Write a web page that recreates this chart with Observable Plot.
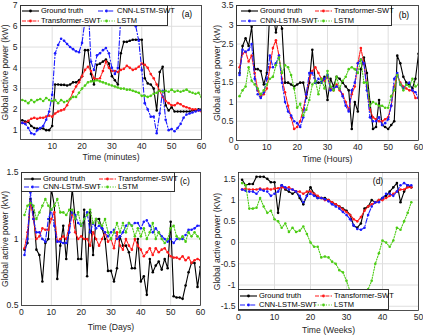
<!DOCTYPE html>
<html><head><meta charset="utf-8">
<script src="https://cdn.jsdelivr.net/npm/d3@7"></script>
<script src="https://cdn.jsdelivr.net/npm/@observablehq/plot@0.6"></script>
<style>
body{margin:0;background:#fff;font-family:"Liberation Sans",Arial,sans-serif;}
#fig{position:relative;width:423px;height:336px;overflow:hidden;background:#fff;}
.panel{position:absolute;}
.legend{position:absolute;background:#fff;border:1px solid #333;box-sizing:border-box;font-size:7.5px;color:#000;}
.item{position:absolute;display:flex;align-items:center;white-space:nowrap;height:8px;}
.item span{margin-left:2px;line-height:8px;}
.tag{position:absolute;font-size:8.5px;color:#000;transform:translate(-50%,-50%);}
</style></head><body><div id="fig"></div>
<script>
// ---- series metadata ----
const seriesNames = ["Ground truth", "Transformer-SWT", "CNN-LSTM-SWT", "LSTM"];
const seriesColors = ["#000000", "#ff1a1a", "#1a1aff", "#4ccc14"];
const seriesDash = [undefined, "4,1.2", "5,2,1.2,2", "1.2,1.5"];

// ---- panel (a): minutes ----
const aTime = d3.range(0, 61);
const aTruth = [1.48,1.42,1.4,1.2,1.1,1.08,1.08,1.08,1.0,1.0,1.2,3.2,3.2,3.18,3.18,3.15,3.2,3.3,3.3,3.4,3.6,4.85,4.85,3.7,3.2,4.15,4.2,4.3,4.4,4.2,3.6,3.4,3.2,4.7,5.25,5.25,5.3,5.35,5.35,5.35,5.35,3.5,3.25,3.2,3.0,1.95,3.8,4.05,2.2,1.95,2.1,1.9,1.9,1.9,1.9,1.9,1.9,1.95,1.95,2.0,2.0];
const aTrans = [1.35,1.35,1.45,1.55,1.6,1.55,1.6,1.6,1.65,1.7,1.65,1.8,1.9,1.95,2.0,2.2,2.5,2.85,3.1,3.3,3.6,3.9,4.05,3.85,3.5,3.45,3.5,3.85,4.3,4.0,3.85,3.85,3.8,3.9,3.95,4.1,4.0,3.9,3.95,4.05,4.2,4.15,4.0,3.7,3.5,3.2,2.9,2.6,2.4,2.3,2.2,2.2,2.3,2.25,2.15,2.1,2.05,2.0,2.0,1.95,1.9];
const aCnn = [1.35,1.3,1.1,0.85,0.8,1.0,1.1,1.2,1.5,1.9,2.7,4.7,5.1,5.4,5.3,5.15,5.0,4.9,4.8,4.75,5.2,6.3,7.2,4.3,3.9,4.6,4.7,4.85,4.95,4.7,4.0,3.7,4.0,6.5,7.2,6.2,6.1,6.3,6.0,5.3,3.9,2.3,2.0,1.65,1.65,0.85,1.8,2.9,1.5,1.0,1.05,0.95,1.1,1.3,1.6,1.75,1.8,1.85,1.9,1.95,1.95];
const aLstm = [2.45,2.4,2.3,2.45,2.35,2.45,2.5,2.4,2.55,2.45,2.4,2.45,2.3,2.45,2.35,2.4,2.5,2.6,2.6,2.8,3.0,3.15,3.3,3.35,3.35,3.4,3.35,3.3,3.25,3.2,3.15,3.1,3.05,3.0,3.0,2.95,2.95,2.9,2.85,2.8,2.65,2.65,2.6,2.65,2.75,2.8,2.9,2.85,2.9,2.85,2.95,2.85,2.9,2.85,2.9,2.95,2.85,2.8,2.75,2.8,2.6];
const aXTicks = [10,20,30,40,50,60];
const aYTicks = [1,2,3,4,5,6,7];

// ---- panel (b): hours ----
const bTime = d3.range(1, 61);
const bTruth = [1.75,2.45,2.65,2.45,2.95,1.85,1.85,1.8,1.45,1.75,3.4,3.3,2.8,3.2,2.9,1.5,1.5,1.45,1.4,1.45,1.5,1.5,1.1,1.5,2.35,1.5,1.5,1.5,1.65,1.05,1.6,1.4,1.65,1.6,1.5,1.4,1.3,0.3,1.0,0.75,1.85,2.15,1.75,1.0,0.3,0.35,1.05,0.4,0.35,0.3,0.4,0.5,2.2,2.0,1.65,1.5,1.45,1.35,1.6,2.25];
const bTrans = [1.9,2.25,2.3,2.05,2.2,1.75,1.3,1.15,1.2,1.35,1.9,2.4,2.6,2.2,1.6,1.25,0.9,0.6,0.3,0.35,0.5,0.8,1.2,1.6,1.8,1.9,1.75,1.6,1.55,1.65,1.35,1.3,1.45,1.3,1.2,1.0,0.8,1.2,1.4,2.0,2.4,2.0,1.4,0.8,0.6,0.55,0.5,0.5,0.55,0.6,0.9,1.4,1.7,1.5,1.4,1.35,1.3,1.3,1.1,1.1];
const bCnn = [1.7,2.35,2.3,2.35,2.5,1.6,1.2,1.1,1.25,1.6,2.2,1.9,2.0,2.2,1.5,1.0,0.75,0.65,0.5,0.45,0.35,0.6,1.2,1.75,1.75,1.5,1.6,1.5,1.6,1.7,1.3,1.35,1.4,1.35,1.15,0.9,0.75,1.3,1.5,2.0,2.1,2.0,1.3,0.6,0.5,0.5,0.6,0.4,0.45,0.55,0.9,1.6,1.75,1.45,1.35,1.45,1.5,1.3,1.25,1.1];
const bLstm = [1.15,1.3,1.4,1.9,1.55,1.45,1.35,1.2,1.3,1.45,1.6,1.65,1.95,2.15,1.75,1.95,1.9,1.7,1.35,0.85,0.95,0.65,0.8,1.05,1.45,1.55,1.2,1.6,1.35,1.8,1.4,1.3,1.65,1.35,1.55,1.65,1.85,1.9,1.85,1.75,2.1,1.5,1.5,0.9,1.0,0.95,0.9,0.9,0.85,0.85,1.15,1.3,1.7,1.45,1.3,1.45,1.4,1.6,1.4,1.45];
const bXTicks = [0,10,20,30,40,50,60];
const bYTicks = [0,0.5,1,1.5,2,2.5,3,3.5];

// ---- panel (c): days ----
const cTime = d3.range(1, 61);
const cTruth = [0.92,0.97,1.3,1.2,0.92,0.88,0.68,0.97,1.0,1.38,1.25,0.7,0.95,1.1,0.85,1.1,1.38,1.15,0.85,0.85,1.22,0.72,1.2,0.88,1.15,1.15,1.08,1.0,0.76,0.76,0.68,0.78,1.02,0.95,0.95,0.9,0.78,0.78,1.0,0.68,0.72,0.58,0.85,0.75,0.8,0.83,0.77,0.85,0.78,1.13,0.57,0.56,0.56,0.55,0.65,0.75,0.82,0.82,0.64,0.79];
const cTrans = [0.93,1.05,1.28,1.15,1.0,1.02,1.08,1.07,1.07,1.15,1.2,0.98,1.0,1.02,1.0,1.1,1.2,1.05,1.0,1.02,1.0,1.0,0.95,1.05,1.0,0.95,1.0,1.05,0.98,1.0,0.93,1.05,0.95,0.92,1.0,0.95,0.92,1.0,0.95,0.92,0.87,0.9,0.93,0.88,0.93,0.9,0.92,0.93,0.9,0.87,0.86,0.86,0.85,0.87,0.84,0.86,0.82,0.84,0.85,0.84];
const cCnn = [0.88,1.0,1.35,1.15,1.05,1.05,1.0,0.98,1.15,1.22,1.1,0.98,0.98,0.97,0.97,1.05,1.2,1.18,1.12,1.1,1.15,1.2,1.05,1.12,1.08,1.1,1.08,1.05,1.02,1.05,1.07,1.0,1.02,1.05,1.1,1.12,1.1,1.12,1.12,1.08,1.13,1.14,1.1,1.05,1.08,1.05,1.02,1.0,0.98,1.0,0.97,1.0,1.0,1.0,1.03,1.07,1.07,1.08,1.1,1.1];
const cLstm = [1.18,1.25,1.27,1.25,1.15,1.2,1.25,1.3,1.25,1.22,1.25,1.3,1.2,1.2,1.18,1.22,1.22,1.15,1.2,1.1,1.15,1.18,1.22,1.12,1.15,1.12,1.1,1.15,1.05,1.0,1.05,1.12,1.05,1.12,1.05,1.12,1.1,1.02,1.08,1.02,1.08,1.0,1.05,1.12,1.0,1.05,1.0,0.97,1.0,1.08,1.1,1.02,1.0,1.02,0.98,1.05,1.02,1.05,1.02,1.0];
const cXTicks = [0,10,20,30,40,50,60];
const cYTicks = [0.5,1,1.5];

// ---- panel (d): weeks ----
const dTime = d3.range(1, 49);
const dTruth = [1.48,1.35,1.38,1.38,1.55,1.55,1.55,1.5,1.42,1.42,0.7,1.35,1.25,1.2,1.15,1.2,1.05,0.9,1.1,1.3,1.15,1.05,1.05,1.05,1.0,0.95,0.9,0.85,0.8,0.75,0.65,0.4,0.35,0.45,0.8,0.85,1.0,0.95,1.0,1.05,1.1,1.2,1.3,1.4,0.95,1.2,1.35,1.3];
const dTrans = [1.25,1.27,1.25,1.25,1.25,1.27,1.25,1.27,1.25,1.27,1.28,1.3,1.28,1.3,1.25,1.2,1.2,1.15,1.2,1.2,1.15,1.1,1.05,1.0,1.0,0.95,0.9,0.85,0.78,0.72,0.65,0.55,0.5,0.6,0.75,0.85,0.9,0.95,1.0,1.0,1.05,1.1,1.15,1.2,1.25,1.25,1.3,1.3];
const dCnn = [1.25,1.22,1.2,1.2,1.15,1.25,1.22,1.2,1.1,1.15,1.2,1.35,1.3,1.25,1.25,1.2,1.1,0.95,1.1,1.15,1.1,1.05,1.05,1.02,0.97,0.9,0.85,0.8,0.72,0.65,0.55,0.4,0.32,0.3,0.35,0.65,0.85,0.95,0.95,1.05,1.15,1.15,1.1,1.2,1.35,1.4,1.35,1.35];
const dLstm = [1.4,1.35,0.8,0.8,0.82,1.05,0.85,0.7,0.75,0.55,0.5,0.35,0.45,0.25,0.35,0.25,0.28,0.38,0.2,0.0,-0.1,-0.1,-0.35,-0.33,-0.35,-0.45,-0.5,-0.65,-0.7,-0.9,-1.15,-1.4,-1.55,-1.45,-1.35,-1.1,-0.9,-0.5,-0.25,0.05,0.0,-0.1,0.05,0.35,0.3,0.5,0.7,0.95];
const dXTicks = [0,10,20,30,40,50];
const dYTicks = [-1.5,-1,-0.5,0,0.5,1,1.5];

const panels = [
  {tag:"(a)", tagPos:[187,14], time:aTime, series:[aTruth,aTrans,aCnn,aLstm],
   xDomain:[-0.6,60], yDomain:[0.55,7], xTicks:aXTicks, yTicks:aYTicks,
   xLabel:"Time (minutes)", yLabel:"Global active power (kW)", xLabOff:20,
   left:0, top:0, width:212, height:168, mL:20, mR:11, mT:5, mB:29,
   legend:{left:20, top:5, width:148, height:21, cols:[1,77], rows:[5,14.5], order:[[0,0,0],[2,1,0],[1,0,1],[3,1,1]]}},
  {tag:"(b)", tagPos:[404,15], time:bTime, series:[bTruth,bTrans,bCnn,bLstm],
   xDomain:[0,60], yDomain:[0,3.5], xTicks:bXTicks, yTicks:bYTicks,
   xLabel:"Time (Hours)", yLabel:"Global active power (kW)", xLabOff:21,
   left:212, top:0, width:211, height:168, mL:24, mR:5, mT:5, mB:28,
   legend:{left:236, top:5, width:156, height:21, cols:[4,78], rows:[5,15], order:[[0,0,0],[1,1,0],[2,0,1],[3,1,1]]}},
  {tag:"(c)", tagPos:[185,181], time:cTime, series:[cTruth,cTrans,cCnn,cLstm],
   xDomain:[0,60], yDomain:[0.5,1.5], xTicks:cXTicks, yTicks:cYTicks,
   xLabel:"Time (Days)", yLabel:"Global active power (kW)", xLabOff:24,
   left:0, top:168, width:212, height:168, mL:21, mR:12, mT:4, mB:31,
   legend:{left:21, top:172, width:154, height:20, cols:[2,77], rows:[5.5,14], order:[[0,0,0],[1,1,0],[2,0,1],[3,1,1]]}},
  {tag:"(d)", tagPos:[378,181], time:dTime, series:[dTruth,dTrans,dCnn,dLstm],
   xDomain:[0,50], yDomain:[-1.6,1.65], xTicks:dXTicks, yTicks:dYTicks,
   xLabel:"Time (Weeks)", yLabel:"Global active power (KW)", xLabOff:22,
   left:212, top:168, width:211, height:168, mL:26, mR:5, mT:4, mB:26,
   legend:{left:238, top:289, width:151, height:21, cols:[1,76], rows:[6,15], order:[[0,0,0],[1,1,0],[2,0,1],[3,1,1]]}}
];

const fig = d3.select("#fig");
const fmt = d => String(d);

for (const p of panels) {
  const marks = [
    Plot.gridX(p.xTicks, {stroke:"#dedede", strokeOpacity:1}),
    Plot.gridY(p.yTicks, {stroke:"#dedede", strokeOpacity:1})
  ];
  p.series.forEach((vals, i) => {
    const rows = vals.map((v, k) => ({x: p.time[k], y: v}));
    marks.push(Plot.line(rows, {x:"x", y:"y", stroke:seriesColors[i], strokeWidth:1.1, strokeDasharray:seriesDash[i], clip:true}));
    marks.push(Plot.dot(rows, {x:"x", y:"y", r:1.3, fill:seriesColors[i], stroke:"none", clip:true}));
  });
  marks.push(Plot.frame({stroke:"#262626", strokeWidth:0.8}));
  marks.push(Plot.axisX(p.xTicks, {tickSize:0, tickPadding:3, tickFormat:fmt, label:p.xLabel, labelAnchor:"center", labelArrow:"none", labelOffset:p.xLabOff}));
  marks.push(Plot.axisY(p.yTicks, {tickSize:0, tickPadding:3, tickFormat:fmt, label:p.yLabel, labelAnchor:"center", labelArrow:"none", labelOffset:p.mL - 1}));
  const svg = Plot.plot({
    width:p.width, height:p.height,
    marginLeft:p.mL, marginRight:p.mR, marginTop:p.mT, marginBottom:p.mB,
    x:{domain:p.xDomain}, y:{domain:p.yDomain},
    style:{fontSize:"8.6px", fontFamily:"'Liberation Sans', Arial, sans-serif", color:"#262626", background:"transparent", overflow:"visible"},
    marks
  });
  fig.append("div").attr("class","panel").style("left",p.left+"px").style("top",p.top+"px").node().appendChild(svg);

  // legend box
  const L = p.legend;
  const lg = fig.append("div").attr("class","legend")
    .style("left",L.left+"px").style("top",L.top+"px").style("width",L.width+"px").style("height",L.height+"px");
  for (const [si, ci, ri] of L.order) {
    const it = lg.append("div").attr("class","item")
      .style("left",L.cols[ci]+"px").style("top",(L.rows[ri]-4)+"px");
    const sw = it.append("svg").attr("width",17).attr("height",8);
    sw.append("line").attr("x1",0).attr("x2",17).attr("y1",4).attr("y2",4)
      .attr("stroke",seriesColors[si]).attr("stroke-width",1.1).attr("stroke-dasharray",seriesDash[si] || null);
    sw.append("circle").attr("cx",8.5).attr("cy",4).attr("r",1.4).attr("fill",seriesColors[si]);
    it.append("span").text(seriesNames[si]);
  }
  fig.append("div").attr("class","tag").style("left",p.tagPos[0]+"px").style("top",p.tagPos[1]+"px").text(p.tag);
}
</script></body></html>
